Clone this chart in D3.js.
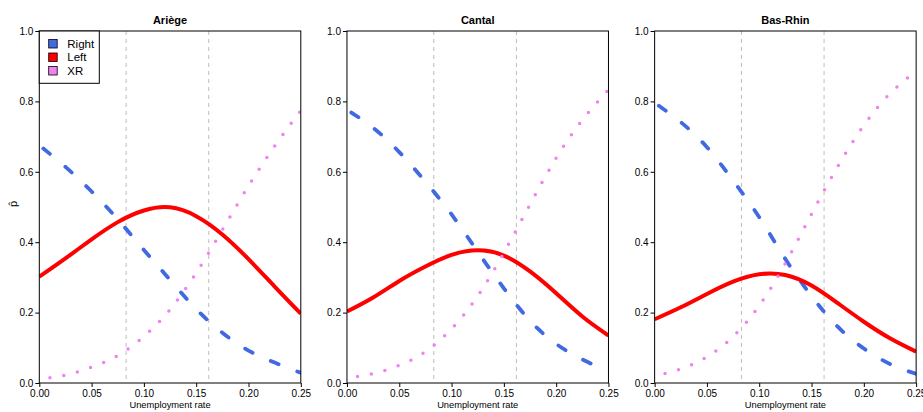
<!DOCTYPE html>
<html>
<head>
<meta charset="utf-8">
<script src="https://cdn.jsdelivr.net/npm/d3@7"></script>
<style>
  body { margin: 0; background: #fff; }
  svg { display: block; font-family: "Liberation Sans", Arial, Helvetica, sans-serif; }
</style>
</head>
<body>
<svg id="chart" width="923" height="412"></svg>
<script>
// unemployment rate grid the probabilities were read at
const unemp = [0, 0.025, 0.05, 0.075, 0.1, 0.125, 0.15, 0.175, 0.2, 0.225, 0.25];
const xTicks = [0, 0.05, 0.1, 0.15, 0.2, 0.25];
const yTicks = [0, 0.2, 0.4, 0.6, 0.8, 1.0];
const cutoffs = [0.083, 0.162];
const departments = ["Ariège", "Cantal", "Bas-Rhin"];
const seriesNames = ["Right", "Left", "XR"];

const ariegeRight = [0.675, 0.614, 0.544, 0.465, 0.378, 0.293, 0.210, 0.143, 0.092, 0.058, 0.029];
const ariegeLeft  = [0.302, 0.354, 0.408, 0.457, 0.490, 0.499, 0.474, 0.422, 0.352, 0.274, 0.197];
const ariegeXR    = [0.012, 0.022, 0.045, 0.078, 0.132, 0.209, 0.313, 0.435, 0.560, 0.673, 0.774];

const cantalRight = [0.776, 0.725, 0.656, 0.572, 0.479, 0.373, 0.269, 0.177, 0.111, 0.067, 0.032];
const cantalLeft  = [0.203, 0.243, 0.290, 0.331, 0.364, 0.377, 0.362, 0.317, 0.255, 0.189, 0.135];
const cantalXR    = [0.014, 0.027, 0.050, 0.089, 0.154, 0.247, 0.370, 0.507, 0.639, 0.747, 0.833];

const basrhinRight = [0.796, 0.741, 0.670, 0.575, 0.471, 0.352, 0.247, 0.160, 0.098, 0.054, 0.026];
const basrhinLeft  = [0.181, 0.215, 0.253, 0.288, 0.309, 0.307, 0.277, 0.227, 0.174, 0.127, 0.089];
const basrhinXR    = [0.020, 0.040, 0.074, 0.132, 0.220, 0.340, 0.480, 0.615, 0.732, 0.822, 0.886];

const panels = [
  { name: departments[0], Right: ariegeRight, Left: ariegeLeft, XR: ariegeXR },
  { name: departments[1], Right: cantalRight, Left: cantalLeft, XR: cantalXR },
  { name: departments[2], Right: basrhinRight, Left: basrhinLeft, XR: basrhinXR }
];

const styles = {
  Right: { color: "#4169E1", width: 3.8, dash: "8.5 20", offset: 23.3 },
  Left:  { color: "#FF0000", width: 4, dash: null, offset: 0 },
  XR:    { color: "#EE82EE", width: 3.5, dash: "0 14", offset: 3.3 }
};

const svg = d3.select("#chart");
const figW = 923 / 3;
const marginLeft = 39.3, plotW = 261.5, plotTop = 31, plotBottom = 383;

const x = d3.scaleLinear().domain([0, 0.25]).range([0, plotW]);
const y = d3.scaleLinear().domain([0, 1]).range([plotBottom, plotTop]);

panels.forEach((p, i) => {
  const g = svg.append("g")
    .attr("transform", `translate(${i * figW + marginLeft},0)`);

  g.append("clipPath").attr("id", "clip" + i)
    .append("rect")
    .attr("x", 0).attr("y", plotTop)
    .attr("width", plotW).attr("height", plotBottom - plotTop);

  // threshold lines
  g.selectAll("line.cut")
    .data(cutoffs)
    .enter().append("line")
      .attr("class", "cut")
      .attr("x1", d => x(d)).attr("x2", d => x(d))
      .attr("y1", plotTop).attr("y2", plotBottom)
      .attr("stroke", "#BEBEBE")
      .attr("stroke-width", 1)
      .attr("stroke-dasharray", "4 4");

  const line = d3.line()
    .x((d, k) => x(unemp[k]))
    .y(d => y(d))
    .curve(d3.curveNatural);

  const plot = g.append("g").attr("clip-path", `url(#clip${i})`);
  seriesNames.forEach(s => {
    const st = styles[s];
    plot.append("path")
      .datum(p[s])
      .attr("d", line)
      .attr("fill", "none")
      .attr("stroke", st.color)
      .attr("stroke-width", st.width)
      .attr("stroke-linecap", st.dash ? "round" : "butt")
      .attr("stroke-dasharray", st.dash)
      .attr("stroke-dashoffset", st.offset);
  });

  // axes
  const xAxis = g.append("g")
    .attr("transform", `translate(0,${plotBottom})`)
    .call(d3.axisBottom(x).tickValues(xTicks).tickFormat(d3.format(".2f")).tickSize(4).tickPadding(3));
  const yAxis = g.append("g")
    .call(d3.axisLeft(y).tickValues(yTicks).tickFormat(d3.format(".1f")).tickSize(4).tickPadding(2));
  [xAxis, yAxis].forEach(a => {
    a.select(".domain").remove();
    a.selectAll("text").attr("font-size", 10).attr("font-family", null).attr("fill", "#000");
    a.selectAll("line").attr("stroke", "#000");
  });

  g.append("rect")
    .attr("x", 0).attr("y", plotTop)
    .attr("width", plotW).attr("height", plotBottom - plotTop)
    .attr("fill", "none").attr("stroke", "#000").attr("stroke-width", 1);

  g.append("text")
    .attr("x", plotW / 2).attr("y", 24)
    .attr("text-anchor", "middle")
    .attr("font-size", 11).attr("font-weight", "bold")
    .text(p.name);

  g.append("text")
    .attr("x", plotW / 2).attr("y", 408)
    .attr("text-anchor", "middle")
    .attr("font-size", 9.3)
    .text("Unemployment rate");

  if (i === 0) {
    g.append("text")
      .attr("transform", `translate(${-marginLeft + 17},204) rotate(-90)`)
      .attr("text-anchor", "middle")
      .attr("font-size", 11)
      .text("p\u0302");

    const leg = g.append("g");
    leg.append("rect")
      .attr("x", 0).attr("y", plotTop)
      .attr("width", 60).attr("height", 52.3)
      .attr("fill", "#fff").attr("stroke", "#000").attr("stroke-width", 1);
    const items = leg.selectAll("g.item")
      .data(seriesNames)
      .enter().append("g")
        .attr("class", "item")
        .attr("transform", (d, k) => `translate(0,${43.7 + k * 13.5})`);
    items.append("rect")
      .attr("x", 9.4).attr("y", -4.2)
      .attr("width", 8.5).attr("height", 8.5)
      .attr("fill", d => styles[d].color)
      .attr("stroke", "#000").attr("stroke-width", 0.8);
    items.append("text")
      .attr("x", 28).attr("dy", "0.36em")
      .attr("font-size", 11.5)
      .text(d => d);
  }
});
</script>
</body>
</html>
